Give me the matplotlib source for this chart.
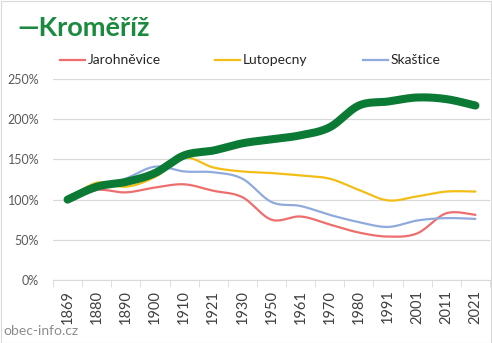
import numpy as np
import matplotlib
matplotlib.use("Agg")
import matplotlib.pyplot as plt
from matplotlib.ticker import FixedLocator, NullFormatter

plt.rcParams['font.family'] = ['Lato', 'DejaVu Sans']

years = ['1869', '1880', '1890', '1900', '1910', '1921', '1930', '1950',
         '1961', '1970', '1980', '1991', '2001', '2011', '2021']
kromeriz = [100, 116, 122, 133, 155, 161, 170, 175, 180, 190, 217, 222, 227, 225, 217]
jarohnevice = [100, 112, 109, 115, 119, 111, 103, 75, 79, 69, 59, 54, 58, 83, 81]
lutopecny = [100, 121, 116, 128, 152, 140, 135, 133, 130, 126, 112, 99, 104, 110, 110]
skastice = [100, 112, 126, 141, 135, 134, 126, 97, 92, 81, 72, 66, 74, 77, 76]

series = [
    ('Jarohněvice', jarohnevice, '#EE6E6E', 1.6),
    ('Lutopecny', lutopecny, '#F2BE16', 1.6),
    ('Skaštice', skastice, '#8FAADC', 1.6),
]


def smooth(y, n=20):
    # Bezier smoothing through the points (Excel-style smoothed line)
    y = np.asarray(y, float)
    x = np.arange(len(y), dtype=float)
    pts = np.column_stack([x, y])
    out = []
    t = np.linspace(0, 1, n, endpoint=False)
    for i in range(len(pts) - 1):
        p0 = pts[max(i - 1, 0)]
        p1 = pts[i]
        p2 = pts[i + 1]
        p3 = pts[min(i + 2, len(pts) - 1)]
        c1 = p1 + (p2 - p0) / 6.0
        c2 = p2 - (p3 - p1) / 6.0
        seg = ((1 - t)[:, None] ** 3 * p1 + 3 * ((1 - t) ** 2 * t)[:, None] * c1
               + 3 * ((1 - t) * t ** 2)[:, None] * c2 + (t ** 3)[:, None] * p2)
        out.append(seg)
    out.append(pts[-1:])
    s = np.vstack(out)
    return s[:, 0], s[:, 1]


fig = plt.figure(figsize=(4.92, 3.43), dpi=100)
ax = fig.add_axes([53 / 492, 1 - 280 / 343, (490 - 53) / 492, (280 - 79) / 343])

for name, vals, col, lw in series:
    sx, sy = smooth(vals)
    ax.plot(sx, sy, color=col, lw=lw, solid_capstyle='round', zorder=3)
sx, sy = smooth(kromeriz)
ax.plot(sx, sy, color='#0B7A35', lw=5.8, solid_capstyle='round', zorder=4)

ax.set_xlim(-0.5, len(years) - 0.5)
ax.set_ylim(0, 250)
ax.set_yticks([0, 50, 100, 150, 200, 250])
ax.set_yticklabels([f'{v}%' for v in [0, 50, 100, 150, 200, 250]])
ax.set_xticks(range(len(years)))
ax.set_xticklabels(years, rotation=90)
ax.xaxis.set_minor_locator(FixedLocator(np.arange(-0.5, len(years), 1.0)))
ax.xaxis.set_minor_formatter(NullFormatter())
ax.tick_params(axis='x', which='major', length=0, pad=7, labelsize=10.5, colors='#404040')
ax.tick_params(axis='x', which='minor', length=5, color='#D9D9D9')
ax.tick_params(axis='y', length=0, pad=10, labelsize=9, labelcolor='#595959')
ax.grid(axis='y', color='#D9D9D9', lw=0.9, zorder=0)
for s in ['top', 'right', 'left']:
    ax.spines[s].set_visible(False)
ax.spines['bottom'].set_color('#D9D9D9')
ax.set_axisbelow(True)

# Title
fig.text(17 / 492, 1 - 28 / 343, '—Kroměříž', color='#1B8A3E', fontsize=19.5,
         fontweight='bold', va='center', ha='left')

# Legend
leg_items = [(60, 'Jarohněvice', '#EE6E6E'), (215, 'Lutopecny', '#F2BE16'),
             (363, 'Skaštice', '#8FAADC')]
for x0, name, col in leg_items:
    yl = 1 - 60 / 343
    fig.add_artist(plt.Line2D([x0 / 492, (x0 + 25) / 492], [yl, yl], color=col, lw=1.6,
                              transform=fig.transFigure))
    fig.text((x0 + 28) / 492, yl, name, fontsize=10, color='#262626', va='center', ha='left')

fig.text(3 / 492, 1 - 331 / 343, 'obec-info.cz', fontsize=10, color='#8C8C8C',
         va='center', ha='left')

fig.add_artist(plt.Rectangle((0.5 / 492, 0.5 / 343), 1 - 1.5 / 492, 1 - 1.5 / 343,
                             transform=fig.transFigure, fill=False, ec='#D9D9D9', lw=0.8))

fig.savefig('out.png', dpi=100)
